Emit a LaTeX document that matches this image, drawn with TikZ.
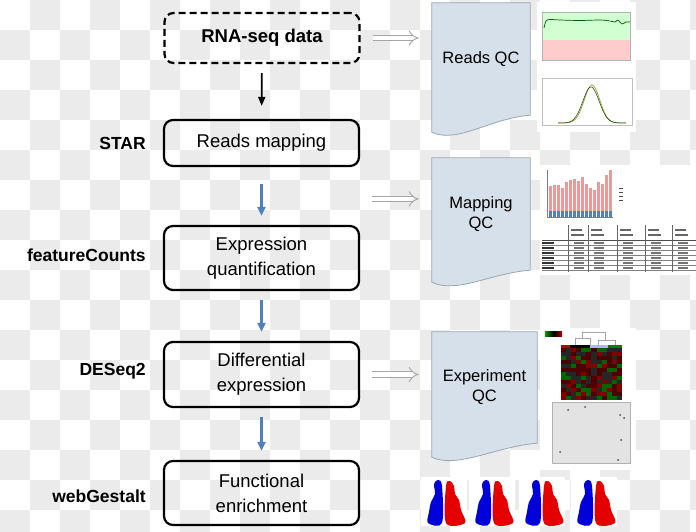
\documentclass[tikz,border=0pt]{standalone}
\usepackage{fontspec}
\setmainfont{Liberation Sans}
\usepackage{xcolor}
\definecolor{docblue}{HTML}{D6E0EA}
\definecolor{docgrey}{HTML}{9AA6B2}
\definecolor{flowblue}{HTML}{4F81BD}
\definecolor{checker}{HTML}{EBEBEB}
\definecolor{barred}{HTML}{E99A9A}
\usepackage{tikz}
\usetikzlibrary{positioning}
\usetikzlibrary{calc}
\usetikzlibrary{arrows.meta}
\pgfdeclarelayer{bg}
\pgfdeclarelayer{docs}
\pgfsetlayers{bg,docs,main}

% document shape behind a QC node, #2 = drop of the lower left corner
\newcommand{\qcdoc}[2]{%
  \begin{pgfonlayer}{docs}
    \filldraw[fill=docblue, draw=docgrey, line width=0.8pt]
      (#1.north west) -- (#1.north east) -- (#1.south east)
      .. controls +(-40,3) and +(25,12) .. ($(#1.south west)+(0,#2)$) -- cycle;
  \end{pgfonlayer}}

\begin{document}
\begin{tikzpicture}[x=1pt, y=-1pt,
    stepbox/.style={draw, rounded corners=9pt, line width=2.2pt, minimum width=195pt,
      align=center, inner sep=0pt, font=\fontsize{18.5}{25}\selectfont},
    toollabel/.style={font=\bfseries\fontsize{17.5}{20}\selectfont, inner sep=0pt},
    qcnode/.style={minimum width=98pt, inner sep=0pt, align=center,
      font=\fontsize{16.5}{20}\selectfont},
    flowarrow/.style={flowblue, line width=2.4pt, -{Triangle[width=8pt,length=9pt]},
      shorten <=9pt, shorten >=9pt},
    qcarrow/.style={draw=gray!70, line width=0.9pt, double=white, double distance=4.5pt,
      -{Implies}, shorten <=12pt, shorten >=13pt},
    volcano/.pic={
      \fill[white] (-23,-3) rectangle (23,46);
      \fill[blue!85!black] plot[smooth cycle, tension=.55] coordinates
        {(-2,43) (-2,6) (-6,0) (-10,4) (-9,14) (-13,22) (-15,32) (-16,43)};
      \fill[red!90!black] plot[smooth cycle, tension=.55] coordinates
        {(2,43) (2,6) (6,1) (10,6) (11,14) (15,20) (17,30) (21,43)};
    }]
    \useasboundingbox (0,0) rectangle (696,532);

    % checker background
    \begin{pgfonlayer}{bg}
        \begin{scope}
            \clip (0,0) rectangle (696,532);
            \fill[white] (0,0) rectangle (696,532);
            \foreach \i in {0,...,23}{
                \foreach \j in {0,...,17}{
                    \pgfmathtruncatemacro{\odd}{mod(\i+\j,2)}
                    \ifnum\odd=1 \fill[checker] (30*\i,30*\j) rectangle ++(30,30);\fi
                }
            }
        \end{scope}
    \end{pgfonlayer}

    % pipeline
    \node[stepbox, dash pattern=on 7pt off 4pt, minimum height=50pt, font=\bfseries\fontsize{18.5}{25}\selectfont] (rna) at (262,38) {RNA-seq data};
    \node[stepbox, minimum height=46pt] (rmap) at (261.5,143) {Reads mapping};
    \node[stepbox, minimum height=64pt] (expr) at (261.5,258) {Expression\\quantification};
    \node[stepbox, minimum height=65pt] (diff) at (261.5,374.5) {Differential\\expression};
    \node[stepbox, minimum height=64pt] (func) at (261.5,493) {Functional\\enrichment};

    \node[toollabel, left=17pt of rmap] (star) {STAR};
    \node[toollabel, left=17pt of expr, yshift=3pt] (fcounts) {featureCounts};
    \node[toollabel, left=17pt of diff, yshift=3pt] (deseq) {DESeq2};
    \node[toollabel, left=17pt of func, yshift=-3pt] (webg) {webGestalt};

    \draw[line width=1.8pt, -{Triangle[width=7pt,length=9pt]}, shorten <=9pt, shorten >=13pt] (rna) -- (rmap);
    \draw[flowarrow, shorten <=17pt] (rmap) -- (expr);
    \draw[flowarrow] (expr) -- (diff);
    \draw[flowarrow] (diff) -- (func);

    % QC documents
    \node[qcnode, minimum height=112pt] (rqc) at (481,59) {Reads QC};
    \node[qcnode, minimum height=112pt] (mqc) at (481,214) {Mapping\\QC};
    \node[qcnode, minimum width=105pt, minimum height=111pt] (eqc) at (484.5,387.5) {Experiment\\QC};
    \qcdoc{rqc}{17}
    \qcdoc{mqc}{12}
    \qcdoc{eqc}{14}

    \coordinate (msrc) at ($(rmap.south east)!.55!(expr.north east)$);
    \draw[qcarrow] (rna.east) -- (rna.east -| rqc.west);
    \draw[qcarrow] (msrc) -- (msrc -| mqc.west);
    \draw[qcarrow] (diff.east) -- (diff.east -| eqc.west);

    % reads QC plots
    \fill[white] (537,2) rectangle (636,132);
    \fill[green!18] (542,12) rectangle (630,40);
    \fill[red!20] (542,40) rectangle (630,60);
    \draw[gray!60, line width=0.3pt] (542,12) rectangle (630,60);
    \draw[green!35!black, line width=0.7pt] plot[smooth] coordinates
        {(544,28) (546,21) (550,19.5) (560,20) (580,20.5) (600,20) (610,21) (615,22) (618,20) (622,24) (626,22) (630,22)};
    \draw[gray!50, line width=0.3pt] (542,78) rectangle (632,125);
    \draw[domain=558:626, smooth, samples=60, yellow!60!black, line width=0.8pt] plot (\x, {123-38*exp(-((\x-592)/11)^2)});
    \draw[domain=558:626, smooth, samples=60, green!30!black, line width=0.5pt] plot (\x, {123-36*exp(-((\x-591)/11.5)^2)});

    % mapping QC plots
    \fill[white] (540,165) rectangle (696,275);
    \draw[gray, line width=0.3pt] (547,170) -- (547,217) -- (613,217);
    \foreach \t [count=\n from 0] in {186,185,185,188,182,180,179,181,177,184,188,190,182,184,175,170}{
        \fill[barred] (549+4*\n,217) rectangle (551.5+4*\n,\t);
        \fill[flowblue] (549+4*\n,217) rectangle (551.5+4*\n,211);
    }
    \foreach \y in {188,192,196,200}{
        \draw[black!70, line width=0.8pt] (619,\y) -- (623,\y);
    }
    \draw[black!70, line width=0.4pt] (542,240) -- (696,240);
    \foreach \y in {245,250,255,260,265,270}{
        \draw[black!50, line width=0.3pt] (542,\y) -- (696,\y);
        \fill[black!80] (542,\y-3.5) rectangle (554,\y-1.5);
    }
    \foreach \x in {568,588,617,645,672}{
        \draw[black!60, line width=0.4pt] (\x,225) -- (\x,272);
        \fill[black!60] (\x+3,229) rectangle (\x+14,231);
        \fill[black!60] (\x+3,234) rectangle (\x+16,236);
        \foreach \y in {245,250,255,260,265,270}{
            \fill[black!55] (\x+6,\y-3.5) rectangle (\x+16,\y-1.5);
        }
    }

    % experiment QC plots
    \fill[white] (540,328) rectangle (636,470);
    \shade[left color=green!60!black, right color=red!70!black, middle color=black] (545,331) rectangle (562,336);
    \draw[gray!70, line width=0.3pt] (575,345) -- (575,338) -- (590,338) -- (590,345)
        (582,338) -- (582,332) -- (605,332) -- (605,340) -- (598,340) -- (598,345)
        (605,340) -- (615,340) -- (615,345);
    \fill[red!70!black] (561,345) rectangle (570,348);
    \fill[black] (570,345) rectangle (590,348);
    \fill[blue!30] (590,345) rectangle (608,348);
    \fill[green!50!black] (608,345) rectangle (622,348);
    \pgfmathsetseed{7}
    \foreach \c in {0,...,11}{
        \foreach \r in {0,...,12}{
            \pgfmathrandominteger{\k}{0}{3}
            \ifcase\k \def\hc{red!50!black}\or \def\hc{green!40!black}\or \def\hc{black!85}\else \def\hc{red!30!black}\fi
            \fill[\hc] (561+5.08*\c,348+4*\r) rectangle ++(5.08,4);
        }
    }
    \fill[gray!22] (552,402) rectangle (630,463);
    \draw[gray!60, line width=0.3pt] (552,402) rectangle (630,463);
    \foreach \p in {(568,410),(620,415),(624,418),(621,440),(560,452),(618,460),(585,407)}{
        \fill[black!70] \p circle (1pt);
    }

    % volcano plots
    \foreach \cx in {444,492,542,594}{
        \pic at (\cx,480) {volcano};
    }
\end{tikzpicture}
\end{document}
